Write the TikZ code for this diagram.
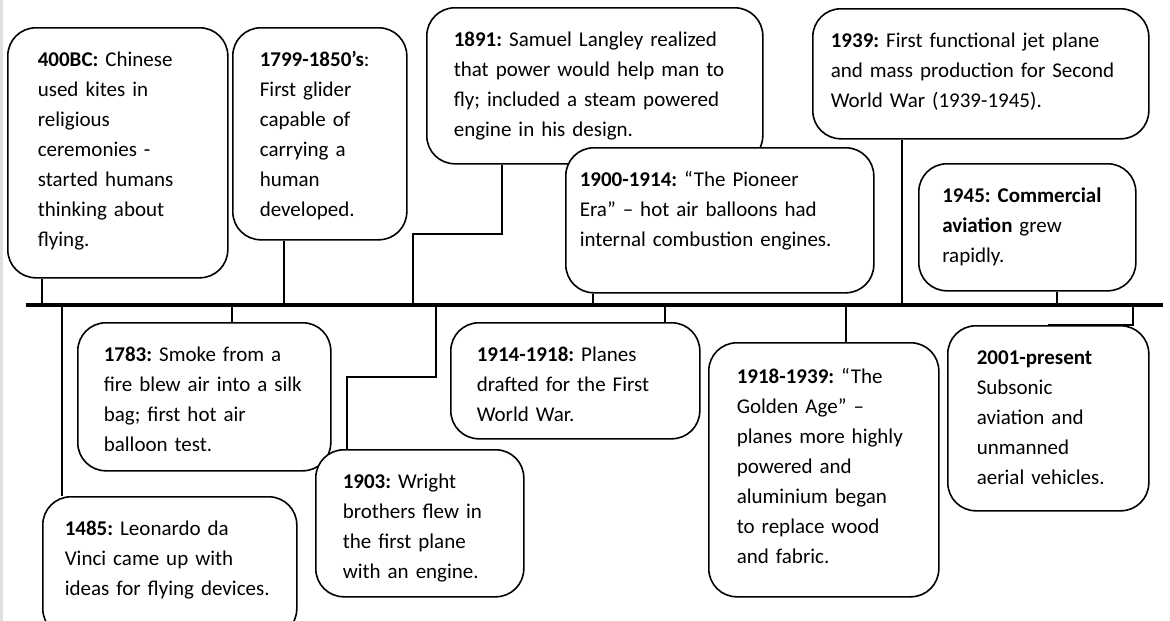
\documentclass[tikz,border=0pt]{standalone}
\usepackage{fontspec}
\setmainfont{Carlito}
\usepackage{tikz}

\begin{document}
\begin{tikzpicture}[
  x=1pt, y=-1pt,
  evbox/.style={draw, fill=white, line width=1.6pt, rounded corners=28pt, anchor=north west, align=left, inner xsep=27pt, inner ysep=16pt, text height=23pt, font=\fontsize{21}{30}\selectfont\frenchspacing},
  link/.style={line width=1.6pt},
  axis/.style={line width=4pt}
]
  \useasboundingbox (0,0) rectangle (1170,621);
  \draw[gray!25, line width=3pt] (1.5,0) -- (1.5,621);

  % events above the line
  \node[evbox, inner xsep=30pt, text width=160pt, text depth=195pt] (bc400) at (7,27) {\textbf{400BC:} Chinese\\used kites in\\religious\\ceremonies -\\started humans\\thinking about\\flying.};
  \node[evbox, text width=120pt, text depth=157pt] (e1799) at (232,27) {\textbf{1799-1850’s}:\\First glider\\capable of\\carrying a\\human\\developed.};
  \node[evbox, text width=282pt, text depth=101pt] (e1891) at (426,7) {\textbf{1891:} Samuel Langley realized\\that power would help man to\\fly; included a steam powered\\engine in his design.};
  \node[evbox, inner xsep=14pt, text width=280pt, text depth=90pt] (e1900) at (565,147) {\textbf{1900-1914:} “The Pioneer\\Era” – hot air balloons had\\internal combustion engines.};
  \node[evbox, inner xsep=18pt, text width=300pt, text depth=75pt] (e1939) at (812,8) {\textbf{1939:} First functional jet plane\\and mass production for Second\\World War (1939-1945).};
  \node[evbox, inner xsep=23.5pt, text width=170pt, text depth=72pt] (e1945) at (918,163) {\textbf{1945: Commercial}\\\textbf{aviation} grew\\rapidly.};

  % events below the line
  \node[evbox, inner xsep=26pt, text width=201pt, text depth=93pt] (e1783) at (77,322) {\textbf{1783:} Smoke from a\\fire blew air into a silk\\bag; first hot air\\balloon test.};
  \node[evbox, inner xsep=22pt, text width=210pt, text depth=85pt] (e1485) at (42,496) {\textbf{1485:} Leonardo da\\Vinci came up with\\ideas for flying devices.};
  \node[evbox, text width=154pt, text depth=92pt] (e1903) at (315,449) {\textbf{1903:} Wright\\brothers flew in\\the first plane\\with an engine.};
  \node[evbox, inner xsep=26pt, text width=197pt, text depth=61pt] (e1914) at (450,322) {\textbf{1914-1918:} Planes\\drafted for the First\\World War.};
  \node[evbox, inner xsep=28pt, inner ysep=18pt, text width=174pt, text depth=195pt] (e1918) at (708,342) {\textbf{1918-1939:} “The\\Golden Age” –\\planes more highly\\powered and\\aluminium began\\to replace wood\\and fabric.};
  \node[evbox, inner xsep=29pt, text width=143pt, text depth=130pt] (e2001) at (947,325) {\textbf{2001-present}\\Subsonic\\aviation and\\unmanned\\aerial vehicles.};

  % ticks on the line
  \coordinate (c400) at (42,305);
  \coordinate (c1485) at (62,305);
  \coordinate (c1783) at (232,305);
  \coordinate (c1799) at (284,305);
  \coordinate (c1891) at (413,305);
  \coordinate (c1903) at (436,305);
  \coordinate (c1900) at (593,305);
  \coordinate (c1914) at (665,305);
  \coordinate (c1918) at (846,305);
  \coordinate (c1939) at (902,305);
  \coordinate (c1945) at (1057,305);
  \coordinate (c2001) at (1133,305);
  \coordinate (k1891) at (502,234);
  \coordinate (k1903) at (347,377);

  \draw[link] (c400) -- (c400 |- bc400.south);
  \draw[link] (c1485) -- (c1485 |- e1485.north);
  \draw[link] (c1783) -- (c1783 |- e1783.north);
  \draw[link] (c1799) -- (c1799 |- e1799.south);
  \draw[link] (c1891) |- (k1891) -- (k1891 |- e1891.south);
  \draw[link] (c1903) |- (k1903) -- (k1903 |- e1903.north);
  \draw[link] (c1900) -- (c1900 |- e1900.south);
  \draw[link] (c1914) -- (c1914 |- e1914.north);
  \draw[link] (c1918) -- (c1918 |- e1918.north);
  \draw[link] (c1939) -- (c1939 |- e1939.south);
  \draw[link] (c1945) -- (c1945 |- e1945.south);
  \draw[link] (c2001) -- (c2001 |- e2001.north) -- (e2001.north);

  % time line
  \coordinate (tl0) at (26,305);
  \coordinate (tl1) at (1163,305);
  \draw[axis] (tl0) -- (tl1);
\end{tikzpicture}
\end{document}
